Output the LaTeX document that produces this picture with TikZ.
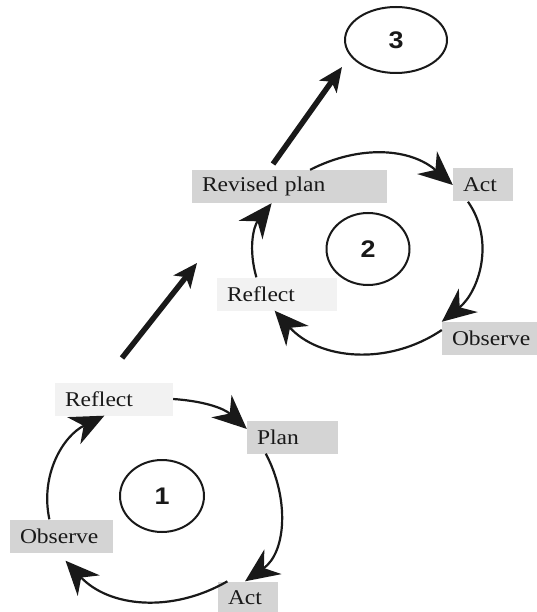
\documentclass[tikz,border=0pt]{standalone}
\usepackage{fontspec}
\setmainfont{Liberation Serif}[FakeStretch=1.12]
\newfontfamily\digitfont{Liberation Sans}[FakeStretch=1.12]
\usetikzlibrary{arrows.meta,shapes.geometric,calc}
\definecolor{boxgray}{RGB}{212,212,212}
\definecolor{boxpale}{RGB}{242,242,242}
\definecolor{inkgray}{RGB}{25,25,25}
\tikzset{%
    every stage/.style={
        rectangle,
        inner xsep=10pt,
        inner ysep=0pt,
        minimum height=33pt,
        align=left,
        text=inkgray,
        font=\fontsize{21}{24}\selectfont
    },
    stage dark/.style={
        fill=boxgray
    },
    stage light/.style={
        fill=boxpale
    },
    every cycle/.style={
        ellipse,
        draw=inkgray,
        line width=2pt,
        inner sep=0pt,
        text=inkgray,
        font=\digitfont\bfseries\fontsize{24}{26}\selectfont
    },
    cycle arrow/.style={
        draw=inkgray,
        line width=2.2pt,
        -{Stealth[length=34pt, width=30pt, inset=11pt]}
    },
    lift arrow/.style={
        draw=inkgray,
        line width=5.5pt,
        -{Stealth[length=24pt, width=21pt, inset=6pt]}
    },
}

\begin{document}
\begin{tikzpicture}[x=1pt, y=1pt]
        \useasboundingbox (0,0) rectangle (537,-612);

        % first cycle
        \foreach \n/\m/\x/\y/\w/\l in {p1/dark/292.5/437/71/Plan, a1/dark/248/598/40/Act,
                                        o1/dark/61.5/536/83/Observe, r1/light/114/399/98/Reflect}
            \node [every stage/.try, stage \m/.try, text width=\w pt] (\n) at (\x,-\y) {\l};

        \node [every cycle, minimum width=84pt, minimum height=72pt] (n1) at (162,-496) {1};

        \draw [cycle arrow] (r1.east) to[out=-4, in=138] (p1.170);
        \draw [cycle arrow] (p1.212) to[out=-62, in=35] (a1.100);
        \draw [cycle arrow] (a1.141) to[out=210, in=-47] ($(o1.south)+(4,-8)$);
        \draw [cycle arrow] (o1.126) to[out=102, in=206] (r1.240);

        % second cycle
        \foreach \n/\m/\x/\y/\w/\l in {rp2/dark/289.5/186.5/175/Revised plan, a2/dark/483/185/40/Act,
                                        o2/dark/490/338.5/76/Observe, r2/light/277/294/100/Reflect}
            \node [every stage/.try, stage \m/.try, text width=\w pt] (\n) at (\x,-\y) {\l};

        \node [every cycle, minimum width=83pt, minimum height=72pt] (n2) at (368,-249) {2};

        \draw [cycle arrow] (rp2.39) to[out=27, in=139] (a2.west);
        \draw [cycle arrow] (a2.228) to[out=-55, in=39] (o2.north west);
        \draw [cycle arrow] (o2.170) to[out=214, in=-48] (r2.262);
        \draw [cycle arrow] (r2.141) to[out=106, in=232] (rp2.223);

        % third cycle
        \node [every cycle, minimum width=102pt, minimum height=66pt] (n3) at (396,-40) {3};

        \coordinate (up1) at (122,-358);
        \coordinate (up1 end) at (197,-263);
        \coordinate (up2) at (273,-164);
        \coordinate (up2 end) at (342,-67);

        \draw [lift arrow] (up1) -- (up1 end);
        \draw [lift arrow] (up2) -- (up2 end);

\end{tikzpicture}
\end{document}
